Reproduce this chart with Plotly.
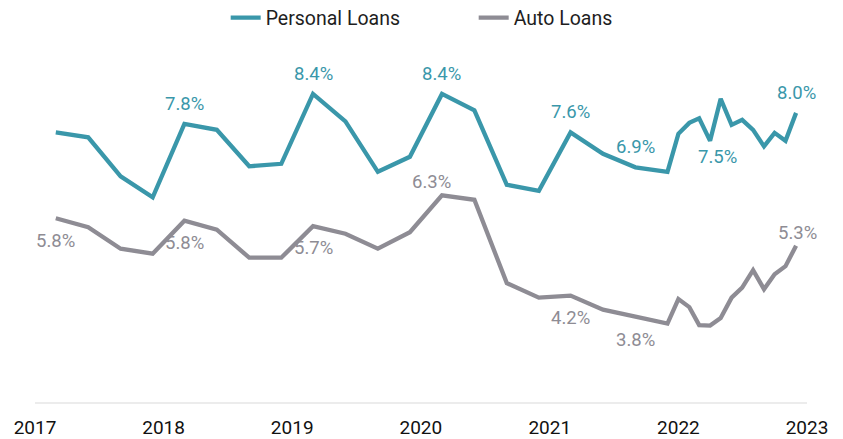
import plotly.graph_objects as go

# ---- data ----
dates = [
    "2017-03-01", "2017-06-01", "2017-09-01", "2017-12-01",
    "2018-03-01", "2018-06-01", "2018-09-01", "2018-12-01",
    "2019-03-01", "2019-06-01", "2019-09-01", "2019-12-01",
    "2020-03-01", "2020-06-01", "2020-09-01", "2020-12-01",
    "2021-03-01", "2021-06-01", "2021-09-01", "2021-12-01",
    "2022-01-01", "2022-02-01", "2022-03-01", "2022-04-01",
    "2022-05-01", "2022-06-01", "2022-07-01", "2022-08-01",
    "2022-09-01", "2022-10-01", "2022-11-01", "2022-12-01",
]
personal_loans = [
    7.63, 7.53, 6.75, 6.33, 7.80, 7.68, 6.95, 7.00,
    8.40, 7.85, 6.84, 7.14, 8.40, 8.07, 6.58, 6.46,
    7.63, 7.20, 6.93, 6.84,
    7.60, 7.82, 7.91, 7.46, 8.30, 7.78, 7.88, 7.68,
    7.35, 7.62, 7.46, 8.02,
]
auto_loans = [
    5.91, 5.73, 5.30, 5.20, 5.86, 5.68, 5.12, 5.12,
    5.75, 5.60, 5.30, 5.63, 6.37, 6.28, 4.61, 4.32,
    4.36, 4.08, 3.94, 3.80,
    4.29, 4.13, 3.77, 3.76, 3.91, 4.32, 4.52, 4.87,
    4.49, 4.79, 4.95, 5.36,
]
personal_label_idx = [4, 8, 12, 16, 18, 23, 31]
personal_label_txt = ["7.8%", "8.4%", "8.4%", "7.6%", "6.9%", "7.5%", "8.0%"]
auto_label_idx = [0, 4, 8, 12, 16, 18, 31]
auto_label_txt = ["5.8%", "5.8%", "5.7%", "6.3%", "4.2%", "3.8%", "5.3%"]
year_ticks = ["2017-01-01", "2018-01-01", "2019-01-01", "2020-01-01",
              "2021-01-01", "2022-01-01", "2023-01-01"]
year_text = ["2017", "2018", "2019", "2020", "2021", "2022", "2023"]

# ---- style ----
TEAL = "#3a97aa"
GRAY = "#8e8c94"
FONT = "Roboto"

# label placement (xshift, yshift) in px
personal_shift = [(0, 20), (0, 20), (0, 20), (0, 20), (0, 20), (7, -16), (0, 20)]
auto_shift = [(0, -23), (0, -22), (0, -22), (-10, 13), (0, -22), (0, -23), (1, 13)]

fig = go.Figure()
fig.add_trace(go.Scatter(x=dates, y=personal_loans, mode="lines", name="Personal Loans",
                         line=dict(color=TEAL, width=4.3)))
fig.add_trace(go.Scatter(x=dates, y=auto_loans, mode="lines", name="Auto Loans",
                         line=dict(color=GRAY, width=4.3)))

anns = []
for i, t, (dx, dy) in zip(personal_label_idx, personal_label_txt, personal_shift):
    anns.append(dict(x=dates[i], y=personal_loans[i], text=t, showarrow=False,
                     xshift=dx, yshift=dy, font=dict(family=FONT, size=18.5, color=TEAL)))
for i, t, (dx, dy) in zip(auto_label_idx, auto_label_txt, auto_shift):
    anns.append(dict(x=dates[i], y=auto_loans[i], text=t, showarrow=False,
                     xshift=dx, yshift=dy, font=dict(family=FONT, size=18.5, color=GRAY)))

fig.update_layout(
    width=835, height=431,
    margin=dict(l=27, r=36, t=6, b=37, autoexpand=False),
    paper_bgcolor="white", plot_bgcolor="white",
    font=dict(family=FONT, size=18, color="#222222"),
    showlegend=True,
    legend=dict(orientation="h", x=0.247, xanchor="left", y=0.99, yanchor="middle",
                font=dict(family=FONT, size=19.5, color="#1e1e1e"),
                bgcolor="rgba(0,0,0,0)", entrywidth=203, entrywidthmode="pixels",
                itemwidth=30),
    annotations=anns,
    xaxis=dict(type="date", range=["2017-01-01", "2023-01-01"],
               tickvals=year_ticks, ticktext=year_text,
               showgrid=False, zeroline=False, showline=True,
               linecolor="#ececec", linewidth=2, ticks="",
               ticklabelstandoff=7,
               tickfont=dict(family=FONT, size=19, color="#111111")),
    yaxis=dict(range=[2.23, 10.0], showgrid=False, zeroline=False,
               showticklabels=False, showline=False),
)

fig.write_html("out.html")
